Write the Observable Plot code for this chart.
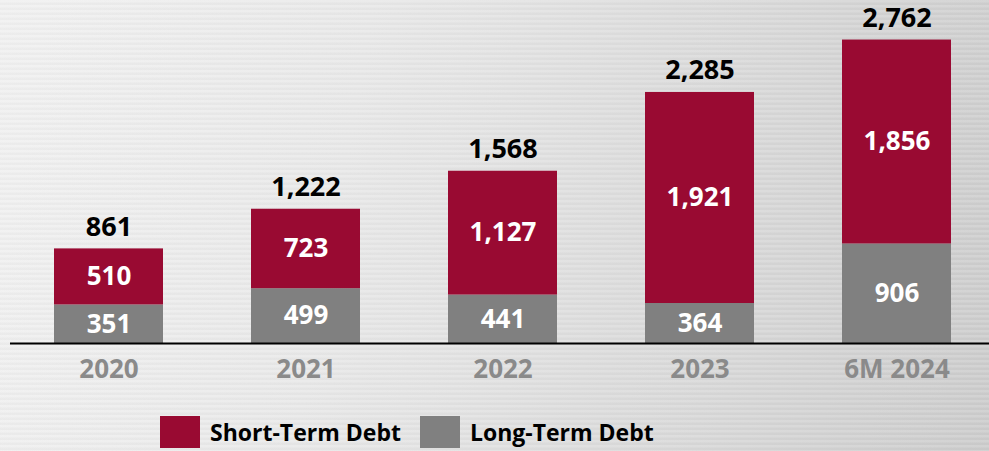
<!DOCTYPE html>
<html>
<head>
<meta charset="utf-8">
<script src="https://cdn.jsdelivr.net/npm/d3@7"></script>
<script src="https://cdn.jsdelivr.net/npm/@observablehq/plot@0.6"></script>
<style>
  html, body { margin: 0; padding: 0; }
  #wrap {
    position: relative; width: 989px; height: 451px; overflow: hidden;
    font-family: "Open Sans", sans-serif;
    background:
      repeating-linear-gradient(180deg, rgba(255,255,255,0.10) 0px, rgba(255,255,255,0.10) 2px, rgba(0,0,0,0.02) 3px, rgba(0,0,0,0.02) 5px),
      linear-gradient(100deg, #f1f1f1 0%, #e9e9e9 35%, #dadada 70%, #cdcdcd 100%);
  }
  #chart svg { display: block; }
  #legend {
    position: absolute; left: 160px; top: 416px; display: flex; align-items: center;
    font-weight: 700; font-size: 23px; color: #000; height: 32px;
  }
  .sw { width: 40px; height: 32px; display: inline-block; margin-right: 10px; }
  .item { display: flex; align-items: center; margin-right: 19px; }
</style>
</head>
<body>
<div id="wrap">
  <div id="chart"></div>
  <div id="legend">
    <div class="item"><span class="sw" style="background:#990a32"></span><span>Short-Term Debt</span></div>
    <div class="item"><span class="sw" style="background:#808080"></span><span>Long-Term Debt</span></div>
  </div>
</div>
<script>
const categories = ["2020", "2021", "2022", "2023", "6M 2024"];
const shortTerm = [510, 723, 1127, 1921, 1856];
const longTerm = [351, 499, 441, 364, 906];
const totals = [861, 1222, 1568, 2285, 2762];
const seriesNames = ["Long-Term Debt", "Short-Term Debt"];
const seriesColors = ["#808080", "#990a32"];

const fmt = d3.format(",");
const rows = [];
categories.forEach((c, i) => {
  rows.push({cat: c, type: "Long-Term Debt", value: longTerm[i], mid: longTerm[i] / 2});
  rows.push({cat: c, type: "Short-Term Debt", value: shortTerm[i], mid: longTerm[i] + shortTerm[i] / 2});
});
const totalRows = categories.map((c, i) => ({cat: c, total: totals[i]}));

const chart = Plot.plot({
  width: 989,
  height: 395,
  marginLeft: 10,
  marginRight: 0,
  marginTop: 13,
  marginBottom: 52,
  style: {fontFamily: "Open Sans, sans-serif", background: "transparent", overflow: "visible"},
  x: {domain: categories, range: [10, 995], paddingInner: 0.447, paddingOuter: 0.223, label: null},
  y: {domain: [0, 3000], range: [343, 13.4], axis: null},
  color: {domain: seriesNames, range: seriesColors},
  marks: [
    Plot.barY(rows, {x: "cat", y: "value", fill: "type", order: seriesNames}),
    Plot.ruleY([0], {stroke: "#000", strokeWidth: 2}),
    Plot.text(rows, {x: "cat", y: "mid", text: d => fmt(d.value), fill: "#fff", fontSize: 26, fontWeight: "bold"}),
    Plot.text(totalRows, {x: "cat", y: "total", text: d => fmt(d.total), dy: -22, fill: "#000", fontSize: 27, fontWeight: "bold"}),
    Plot.axisX({tickSize: 0, tickPadding: 16, fontSize: 26, fontWeight: "bold", color: "#8a8a8a", label: null})
  ]
});
document.getElementById("chart").appendChild(chart);
</script>
</body>
</html>
